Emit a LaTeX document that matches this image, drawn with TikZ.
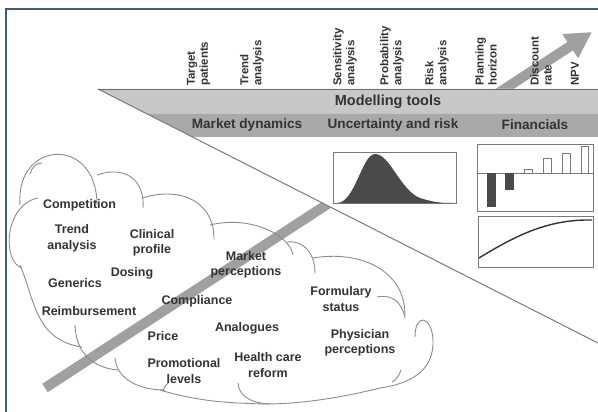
\documentclass[tikz,border=0pt]{standalone}
\usepackage{fontspec}
\setmainfont{Liberation Sans}
\usetikzlibrary{arrows.meta}
\definecolor{framec}{HTML}{3F5A7E}
\definecolor{inkc}{HTML}{333333}
\definecolor{bandlight}{HTML}{C8C8C8}
\definecolor{banddark}{HTML}{A9A9A9}
\definecolor{arrowc}{HTML}{A0A0A0}
\definecolor{cloudc}{HTML}{8C8C8C}
\definecolor{edgec}{HTML}{7A7A7A}
\definecolor{fillc}{HTML}{4A4A4A}
\begin{document}
\begin{tikzpicture}[x=1pt,y=-1pt,
  toollabel/.style={rotate=90, anchor=west, align=left, inner sep=0pt, text=inkc,
    font=\fontsize{11.5}{13}\selectfont\bfseries},
  bandlabel/.style={text=inkc, inner sep=0pt, font=\fontsize{13.6}{16}\selectfont\bfseries},
  toolhead/.style={text=inkc, inner sep=0pt, font=\fontsize{14.5}{17}\selectfont\bfseries},
  factor/.style={text=inkc, align=center, inner sep=0pt, font=\fontsize{12.5}{15.5}\selectfont\bfseries},
  cloudline/.style={draw=cloudc, line width=0.9pt},
  chartbox/.style={draw=edgec, line width=0.8pt, fill=white},
  posbar/.style={draw=edgec, line width=0.8pt, fill=white},
  negbar/.style={draw=fillc, fill=fillc}]

% canvas and frame
\fill[white] (0,0) rectangle (598,412);
\useasboundingbox (0,0) rectangle (598,412);
\draw[framec, line width=1.2pt] (6,412) -- (6,9) -- (598,9);

% long grey arrow running behind the wedge
\coordinate (barstart) at (45,388);
\coordinate (bartip) at (592,32);
\draw[arrowc, line width=10pt, -{Triangle[length=26pt,width=27pt]}] (barstart) -- (bartip);

% wedge with its two bands
\coordinate (wtl) at (98,89);
\coordinate (wtr) at (598,89);
\coordinate (wbr) at (598,343);
\fill[white] (wtl) -- (wtr) -- (wbr) -- cycle;
\fill[bandlight] (98,89) -- (598,89) -- (598,114) -- (147.2,114) -- cycle;
\fill[banddark] (147.2,114) -- (598,114) -- (598,137) -- (192.5,137) -- cycle;
\draw[edgec, line width=1pt] (wtl) -- (wbr);
\draw[edgec!90!black, line width=0.8pt] (wtl) -- (wtr);

\node[toolhead] (tools) at (388,102) {Modelling tools};
\node[bandlabel] (mkt) at (247,125) {Market dynamics};
\node[bandlabel] (unc) at (393,125) {Uncertainty and risk};
\node[bandlabel] (fin) at (535,125) {Financials};

% tool labels above the wedge
\node[toollabel] (t1) at (198.5,86) {Target\\patients};
\node[toollabel] (t2) at (252,86) {Trend\\analysis};
\node[toollabel] (t3) at (345,86) {Sensitivity\\analysis};
\node[toollabel] (t4) at (392,86) {Probability\\analysis};
\node[toollabel] (t5) at (437,86) {Risk\\analysis};
\node[toollabel] (t6) at (486,86) {Planning\\horizon};
\node[toollabel] (t7) at (541,86) {Discount\\rate};
\node[toollabel] (t8) at (575,86) {NPV};

% distribution chart
\draw[chartbox] (333,152) rectangle (456,203);
\fill[fillc] (337,203) .. controls (355,203) and (362,154) .. (375,154)
  .. controls (390,154) and (400,190) .. (420,198)
  .. controls (435,203) and (445,203) .. (453,203) -- cycle;

% cash-flow bars
\draw[chartbox] (477,144) rectangle (593,211);
\draw[edgec, line width=0.8pt] (477,173) -- (593,173);
\fill[negbar] (487,173) rectangle (495,206);
\fill[negbar] (505,173) rectangle (513,189);
\draw[posbar] (524,169) rectangle (532,173);
\draw[posbar] (543,158) rectangle (551,173);
\draw[posbar] (562,153) rectangle (570,173);
\draw[posbar] (581,146) rectangle (588,173);

% cumulative curve
\draw[chartbox] (478,216) rectangle (593,267);
\draw[inkc, line width=1.4pt] (479,258) .. controls (515,236) and (545,221) .. (585,220) -- (592,220);

% cloud outline
\draw[cloudline] (20,205) .. controls (15,140) and (97,135) .. (97,205);
\draw[cloudline] (42,163) .. controls (36,163) and (32,167) .. (30,174);
\draw[cloudline] (38,198) .. controls (4,205) and (2,262) .. (22,268);
\draw[cloudline] (20,265) .. controls (35,300) and (35,340) .. (82,347);
\draw[cloudline] (75,325) .. controls (76,355) and (95,368) .. (118,370);
\draw[cloudline] (115,358) .. controls (117,380) and (140,390) .. (165,390);
\draw[cloudline] (163,392) .. controls (164,388) and (165,385) .. (168,383);
\draw[cloudline] (160,390) .. controls (200,402) and (230,403) .. (265,404);
\draw[cloudline] (238,383) .. controls (239,396) and (250,403) .. (270,404);
\draw[cloudline] (380,388) .. controls (340,398) and (300,404) .. (265,404);
\draw[cloudline] (415,337) .. controls (415,312) and (432,316) .. (433,340)
  .. controls (434,368) and (415,383) .. (380,388);
\draw[cloudline] (392,382) .. controls (396,380) and (399,376) .. (401,370);
\draw[cloudline] (313,258) .. controls (360,250) and (405,270) .. (405,315);
\draw[cloudline] (377,297) .. controls (392,294) and (402,302) .. (405,318);
\draw[cloudline] (287,242) .. controls (305,240) and (315,255) .. (315,273);
\draw[cloudline] (210,225) .. controls (250,215) and (290,235) .. (293,255);
\draw[cloudline] (142,198) .. controls (185,185) and (215,205) .. (214,240);
\draw[cloudline] (97,175) .. controls (125,165) and (145,180) .. (143,208);

% market factors
\node[factor] (f1) at (79.5,205) {Competition};
\node[factor] (f2) at (72,238.5) {Trend\\analysis};
\node[factor] (f3) at (152,243) {Clinical\\profile};
\node[factor] (f4) at (132,273) {Dosing};
\node[factor] (f5) at (75,283) {Generics};
\node[factor] (f6) at (89,311) {Reimbursement};
\node[factor] (f7) at (197,301) {Compliance};
\node[factor] (f8) at (246,265) {Market\\perceptions};
\node[factor] (f9) at (163,336) {Price};
\node[factor] (f10) at (247,328) {Analogues};
\node[factor] (f11) at (184,371) {Promotional\\levels};
\node[factor] (f12) at (268,365) {Health care\\reform};
\node[factor] (f13) at (341,299) {Formulary\\status};
\node[factor] (f14) at (360,343) {Physician\\perceptions};
\end{tikzpicture}
\end{document}
